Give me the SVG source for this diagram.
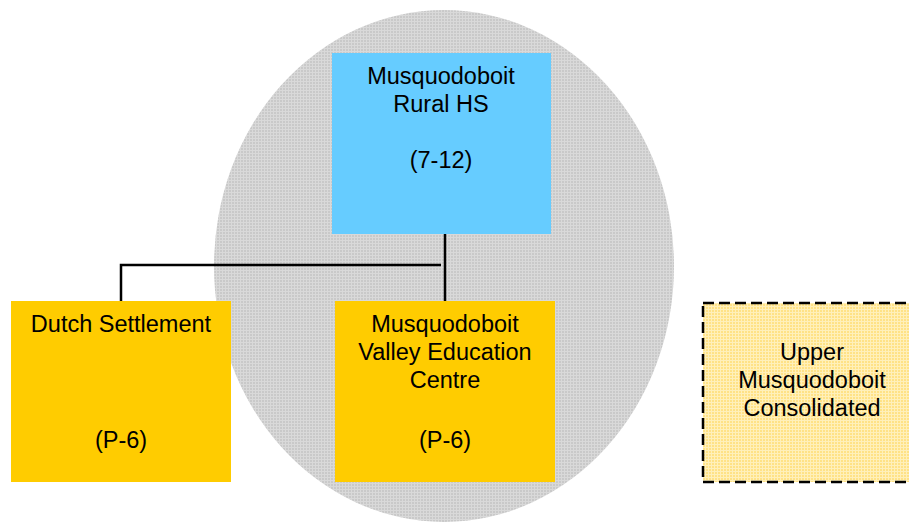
<svg xmlns="http://www.w3.org/2000/svg" width="909" height="522" viewBox="0 0 909 522">
<defs>
<pattern id="grayGrid" width="3" height="3" patternUnits="userSpaceOnUse">
<rect width="3" height="3" fill="#C9C9C9"/>
<rect x="0" y="0" width="3" height="1" fill="#D9D9D9"/>
<rect x="0" y="0" width="1" height="3" fill="#D9D9D9"/>
</pattern>
<pattern id="yellowGrid" width="3" height="3" patternUnits="userSpaceOnUse">
<rect width="3" height="3" fill="#FFE286"/>
<rect x="0" y="0" width="3" height="1" fill="#FFF0BA"/>
<rect x="0" y="0" width="1" height="3" fill="#FFF0BA"/>
</pattern>
<style>
.t{font-family:"Liberation Sans",Arial,sans-serif;font-size:23.5px;fill:#000;text-anchor:middle}
.conn{stroke:#000;stroke-width:2.5;fill:none}
</style>
</defs>
<rect width="909" height="522" fill="#FFFFFF"/>
<ellipse id="region" cx="444" cy="266" rx="230" ry="256" fill="url(#grayGrid)"/>
<g id="connectors">
<line class="conn" x1="445" y1="234" x2="445" y2="301"/>
<polyline class="conn" points="441,265 121,265 121,301"/>
</g>
<g id="node-rural-hs">
<rect x="332" y="53" width="219" height="181" fill="#66CCFF"/>
<text class="t" x="441" y="84">Musquodoboit</text>
<text class="t" x="441" y="112">Rural HS</text>
<text class="t" x="441" y="168">(7-12)</text>
</g>
<g id="node-dutch-settlement">
<rect x="11" y="301" width="220" height="181" fill="#FFCC00"/>
<text class="t" x="121" y="332">Dutch Settlement</text>
<text class="t" x="121" y="448">(P-6)</text>
</g>
<g id="node-valley-education">
<rect x="335" y="301" width="220" height="181" fill="#FFCC00"/>
<text class="t" x="445" y="332">Musquodoboit</text>
<text class="t" x="445" y="360">Valley Education</text>
<text class="t" x="445" y="388">Centre</text>
<text class="t" x="445" y="448">(P-6)</text>
</g>
<g id="node-upper-consolidated">
<rect x="703" y="303" width="220" height="179" fill="url(#yellowGrid)" stroke="#000" stroke-width="2.5" stroke-dasharray="11,5"/>
<text class="t" x="812" y="360">Upper</text>
<text class="t" x="812" y="388">Musquodoboit</text>
<text class="t" x="812" y="416">Consolidated</text>
</g>
</svg>
